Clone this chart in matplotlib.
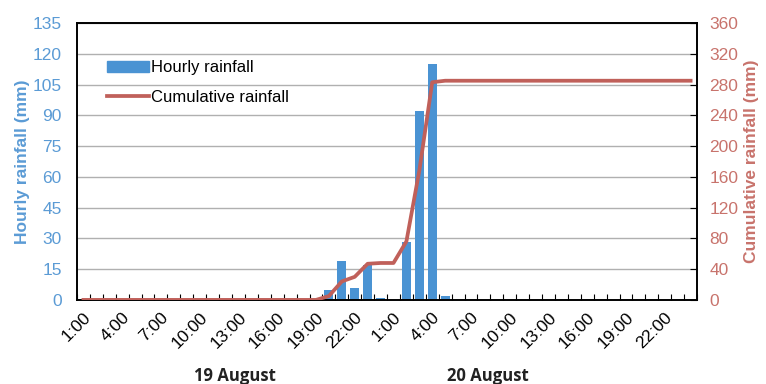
import numpy as np
import matplotlib
matplotlib.use("Agg")
import matplotlib.pyplot as plt
from matplotlib.patches import Patch
from matplotlib.lines import Line2D

plt.rcParams['font.family'] = ['Liberation Sans', 'DejaVu Sans']

# hourly rainfall (mm), 19 Aug 1:00 .. 21 Aug 0:00
hours = ["%d:00" % h for h in range(1, 25)] * 2
hourly = [0] * 48
hourly[19] = 5
hourly[20] = 19
hourly[21] = 6
hourly[22] = 17
hourly[23] = 1
hourly[25] = 28
hourly[26] = 92
hourly[27] = 115
hourly[28] = 2
cumulative = np.cumsum(hourly)

days = ["19 August", "20 August"]

blue = "#4a93d3"
red = "#c0605a"
blue_txt = "#5b9bd5"
red_txt = "#c8736c"

fig = plt.figure(figsize=(7.66, 3.84), dpi=100)
ax = fig.add_axes([0.1005, 0.219, 0.8095, 0.721])
x = np.arange(len(hourly))

ax.bar(x, hourly, width=0.7, color=blue, zorder=2)
ax.set_ylim(0, 135)
ax.set_yticks(np.arange(0, 136, 15))
ax.set_xlim(-0.5, len(hourly) - 0.5)
ax.grid(axis='y', color='#b0b0b0', linewidth=1, zorder=0)
ax.set_axisbelow(True)

ax2 = ax.twinx()
ax2.plot(x, cumulative, color=red, linewidth=2.7, zorder=3)
ax2.set_ylim(0, 360)
ax2.set_yticks(np.arange(0, 361, 40))

# x ticks: marks on hour boundaries, labels every 3 hours
ax.set_xticks(np.arange(-0.5, len(hourly), 1))
ax.set_xticklabels([])
ax.set_xticks(x[::3], minor=True)
ax.set_xticklabels([hours[i] for i in x[::3]], minor=True, rotation=45,
                   ha='right', rotation_mode='anchor', fontsize=12.5)
ax.tick_params(axis='x', which='major', direction='in', length=4, color='black')
ax.tick_params(axis='x', which='minor', length=0, pad=7)

ax.tick_params(axis='y', direction='in', length=0, labelsize=12.5, labelcolor=blue_txt, pad=11)
ax2.tick_params(axis='y', direction='in', length=5, labelsize=12.5, labelcolor=red_txt, pad=9)

for a in (ax, ax2):
    for s in a.spines.values():
        s.set_color('black')
        s.set_linewidth(1.2)

ax.set_ylabel("Hourly rainfall (mm)", color=blue_txt, fontsize=12.5, fontweight='bold', labelpad=2)
ax2.set_ylabel("Cumulative rainfall (mm)", color=red_txt, fontsize=12.5, fontweight='bold', labelpad=4)

fig.text(235 / 766, 1 - 376 / 384, days[0], ha='center', va='center',
         fontsize=12, fontweight='bold', family=['Open Sans', 'DejaVu Sans'], color='#222222')
fig.text(488 / 766, 1 - 376 / 384, days[1], ha='center', va='center',
         fontsize=12, fontweight='bold', family=['Open Sans', 'DejaVu Sans'], color='#222222')

handles = [Patch(color=blue), Line2D([], [], color=red, linewidth=2.7)]
ax2.legend(handles, ["Hourly rainfall", "Cumulative rainfall"], loc='upper left',
           bbox_to_anchor=(0.025, 0.92), frameon=False, fontsize=12,
           handlelength=2.5, handletextpad=0.1, labelspacing=0.9)

fig.savefig("out.png", dpi=100)
